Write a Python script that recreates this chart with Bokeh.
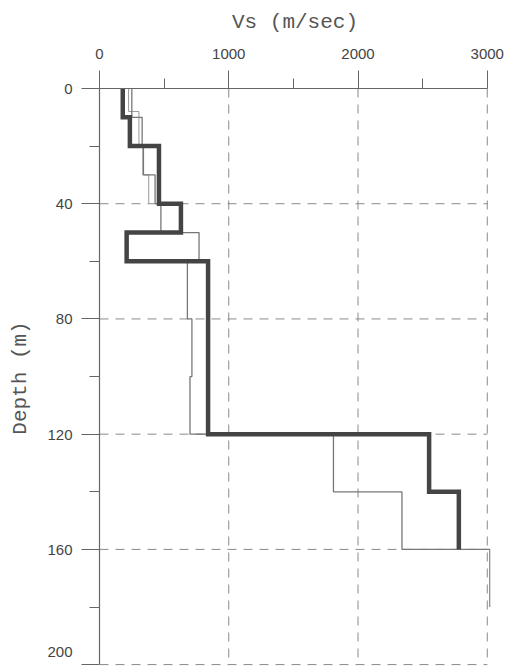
from bokeh.plotting import figure
from bokeh.models import Range1d, FixedTicker
from bokeh.embed import file_html
from bokeh.resources import INLINE

# ---- data ----
x_ticks = [0, 1000, 2000, 3000]
x_minor = [500, 1500, 2500]
y_ticks = [0, 40, 80, 120, 160, 200]
y_minor = [20, 60, 100, 140, 180]

# thick profile: layer boundaries (m) and Vs (m/sec)
thick_depth = [0, 10, 20, 40, 50, 60, 120, 140, 160]
thick_vs = [180, 235, 460, 630, 210, 840, 2550, 2780]

# thin profile A
thinA_depth = [0, 10, 20, 30, 40, 50, 60, 80, 100, 120, 140, 160, 180]
thinA_vs = [250, 330, 340, 430, 475, 770, 680, 715, 700, 1810, 2340, 3020]

# thin profile B (upper layers)
thinB_depth = [0, 8, 20, 30, 40]
thinB_vs = [225, 305, 335, 381]


def step_path(depths, vs):
    xs, ys = [], []
    for i, v in enumerate(vs):
        xs += [v, v]
        ys += [depths[i], depths[i + 1]]
    return xs, ys


p = figure(frame_width=391, frame_height=579,
           x_range=Range1d(0, 3025), y_range=Range1d(201, 0),
           x_axis_location="above", output_backend="svg", toolbar_location=None,
           min_border_left=99, min_border_top=88, min_border_right=20, min_border_bottom=0)
p.outline_line_color = None
p.grid.visible = False

# dashed grid
for xv in x_ticks[1:]:
    p.line([xv, xv], [y_ticks[0], y_ticks[-1]], line_color="#8a8a8a", line_width=1, line_dash="9 7")
for yv in y_ticks[1:]:
    p.line([x_ticks[0], x_ticks[-1]], [yv, yv], line_color="#8a8a8a", line_width=1, line_dash="9 7")

xs, ys = step_path(thinB_depth, thinB_vs)
p.line(xs, ys, line_color="#9a9a9a", line_width=1)
xs, ys = step_path(thinA_depth, thinA_vs)
p.line(xs, ys, line_color="#777777", line_width=1.3)
xs, ys = step_path(thick_depth, thick_vs)
p.line(xs, ys, line_color="#444444", line_width=4.5, line_join="miter")

for ax, ticks, minor, bounds in ((p.xaxis[0], x_ticks, x_minor, (0, 3000)),
                                 (p.yaxis[0], y_ticks, y_minor, (0, 200))):
    ax.ticker = FixedTicker(ticks=ticks, minor_ticks=minor)
    ax.bounds = bounds
    ax.axis_line_color = "#666666"
    ax.axis_line_width = 1.2
    ax.major_tick_line_color = "#666666"
    ax.minor_tick_line_color = "#666666"
    ax.major_tick_out = 18
    ax.major_tick_in = 0
    ax.minor_tick_out = 10
    ax.minor_tick_in = 0
    ax.major_label_text_font = "Liberation Sans"
    ax.major_label_text_font_size = "15px"
    ax.major_label_text_color = "#444444"
    ax.axis_label_text_font = "Liberation Mono"
    ax.axis_label_text_font_size = "21px"
    ax.axis_label_text_font_style = "normal"
    ax.axis_label_text_color = "#555555"

p.xaxis[0].axis_label = "Vs (m/sec)"
p.xaxis[0].major_label_standoff = 12
p.xaxis[0].axis_label_standoff = 12
p.yaxis[0].axis_label = "Depth (m)"
p.yaxis[0].major_label_standoff = 9
p.yaxis[0].axis_label_standoff = 12

# bottom tick label lifted a little so that it stays inside the page
last = y_ticks[-1]
p.yaxis[0].major_label_overrides = {last: str(last) + "\n "}
p.yaxis[0].major_label_text_line_height = 0.45

open("out.html", "w").write(file_html(p, INLINE))
